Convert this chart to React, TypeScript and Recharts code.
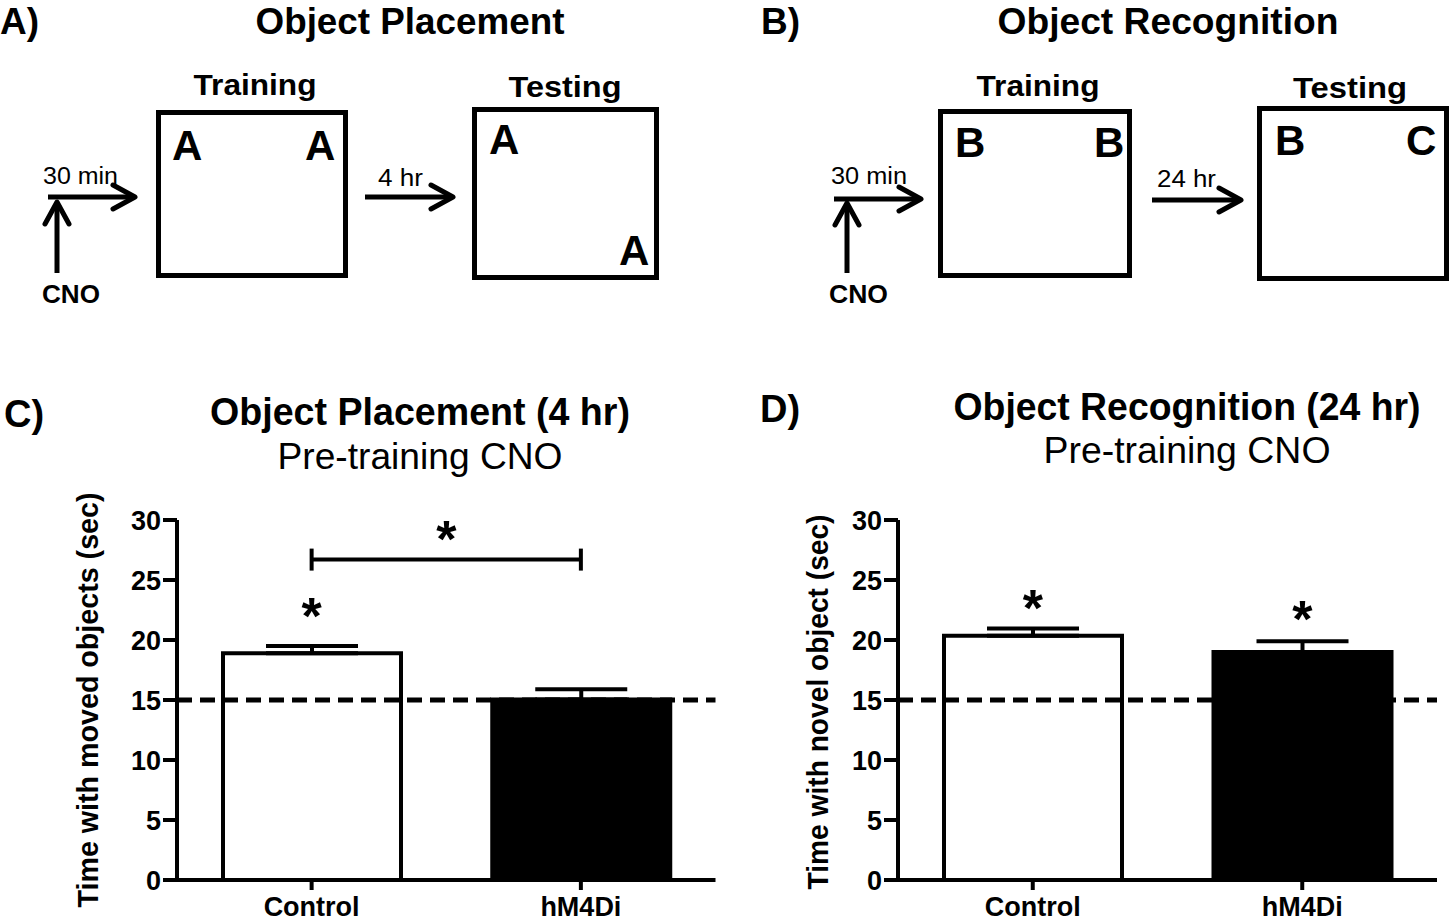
import React from 'react';
import { BarChart, Bar, XAxis, YAxis, ErrorBar, Cell, ReferenceLine, ReferenceDot } from 'recharts';

const FONT = '"Liberation Sans", Arial, Helvetica, sans-serif';

// shared
const groups = ['Control', 'hM4Di'];
const barFills = ['#ffffff', '#000000'];
const yTicks = [0, 5, 10, 15, 20, 25, 30];
const chanceLevel = 15;

// C) object placement, 4 hr
const placementMean = [18.9, 15.05];
const placementSem = [0.6, 0.85];
const placementStar: (number | null)[] = [22.9, null];
const placementBracket = 26.7;

// D) object recognition, 24 hr
const recognitionMean = [20.35, 19.0];
const recognitionSem = [0.6, 0.9];
const recognitionStar: (number | null)[] = [23.6, 22.7];

type Row = { group: string; mean: number; err: [number, number]; star: number | null };

const buildRows = (mean: number[], sem: number[], star: (number | null)[]): Row[] =>
  groups.map((g, i) => ({ group: g, mean: mean[i], err: [0, sem[i]], star: star[i] }));

const placementRows = buildRows(placementMean, placementSem, placementStar);
const recognitionRows = buildRows(recognitionMean, recognitionSem, recognitionStar);

const axisStyle = { stroke: '#000', strokeWidth: 4 };

const StarMark = (props: any) => {
  if (props.cx == null || props.cy == null) return <g />;
  return (
    <text x={props.cx} y={props.cy + 29} textAnchor="middle" fontFamily={FONT} fontWeight="bold" fontSize={52} fill="#000">
      *
    </text>
  );
};

const Bracket = (props: any) => {
  const { x1, x2, y1 } = props;
  if (x1 == null || x2 == null || y1 == null) return <g />;
  return (
    <g>
      <line x1={x1} y1={y1} x2={x2} y2={y1} stroke="#000" strokeWidth={4} />
      <line x1={x1} y1={y1 - 11} x2={x1} y2={y1 + 11} stroke="#000" strokeWidth={4} />
      <line x1={x2} y1={y1 - 11} x2={x2} y2={y1 + 11} stroke="#000" strokeWidth={4} />
      <text x={(x1 + x2) / 2} y={y1 - 3} textAnchor="middle" fontFamily={FONT} fontWeight="bold" fontSize={52} fill="#000">
        *
      </text>
    </g>
  );
};

interface PanelProps {
  rows: Row[];
  width: number;
  marginLeft: number;
  marginRight: number;
  bracket?: number;
}

const ChartPanel = ({ rows, width, marginLeft, marginRight, bracket }: PanelProps) => (
  <BarChart
    width={width}
    height={442}
    data={rows}
    margin={{ top: 40, right: marginRight, bottom: 2, left: marginLeft }}
    barSize={178}
  >
    <XAxis
      dataKey="group"
      height={40}
      interval={0}
      tickSize={10}
      tickMargin={7}
      axisLine={axisStyle}
      tickLine={axisStyle}
      tick={{ fill: '#000', fontSize: 27, fontWeight: 'bold', fontFamily: FONT }}
    />
    <YAxis
      domain={[0, 30]}
      ticks={yTicks}
      width={60}
      tickSize={14}
      tickMargin={2}
      axisLine={axisStyle}
      tickLine={axisStyle}
      tick={{ fill: '#000', fontSize: 27, fontWeight: 'bold', fontFamily: FONT }}
    />
    <Bar dataKey="mean" stroke="#000" strokeWidth={4} isAnimationActive={false}>
      {rows.map((r, i) => (
        <Cell key={r.group} fill={barFills[i]} />
      ))}
      <ErrorBar dataKey="err" direction="y" width={46} stroke="#000" strokeWidth={4} isAnimationActive={false} />
    </Bar>
    <ReferenceLine y={chanceLevel} stroke="#000" strokeWidth={5} strokeDasharray="15 8" />
    {rows.map((r) =>
      r.star != null ? <ReferenceDot key={'star-' + r.group} x={r.group} y={r.star} r={0} shape={StarMark} /> : null
    )}
    {bracket != null ? (
      <ReferenceLine
        segment={[
          { x: groups[0], y: bracket },
          { x: groups[1], y: bracket },
        ]}
        shape={Bracket}
      />
    ) : null}
  </BarChart>
);

const T = ({ x, y, size, bold, anchor = 'start', len, children }: any) => (
  <text
    x={x}
    y={y}
    fontSize={size}
    fontWeight={bold ? 'bold' : 'normal'}
    textAnchor={anchor}
    textLength={len}
    lengthAdjust="spacingAndGlyphs"
    fontFamily={FONT}
    fill="#000"
  >
    {children}
  </text>
);

const Arrow = ({ x1, y1, x2, y2 }: { x1: number; y1: number; x2: number; y2: number }) => {
  const a = Math.atan2(y2 - y1, x2 - x1);
  const bx = x2 - 22 * Math.cos(a);
  const by = y2 - 22 * Math.sin(a);
  const px = -Math.sin(a) * 12;
  const py = Math.cos(a) * 12;
  return (
    <g stroke="#000" strokeWidth={5} fill="none">
      <line x1={x1} y1={y1} x2={x2 - 3 * Math.cos(a)} y2={y2 - 3 * Math.sin(a)} />
      <polyline points={`${bx + px},${by + py} ${x2},${y2} ${bx - px},${by - py}`} strokeLinejoin="round" strokeLinecap="round" />
    </g>
  );
};

const Box = ({ x, y, w, h }: { x: number; y: number; w: number; h: number }) => (
  <rect x={x + 2.5} y={y + 2.5} width={w - 5} height={h - 5} fill="none" stroke="#000" strokeWidth={5} />
);

const Diagrams = () => (
  <svg width={1455} height={922} style={{ position: 'absolute', left: 0, top: 0 }}>
    {/* A) */}
    <T x={0} y={34} size={37} bold>A)</T>
    <T x={410} y={34} size={37} bold anchor="middle" len={309}>Object Placement</T>
    <T x={255} y={95} size={30} bold anchor="middle" len={123}>Training</T>
    <T x={565} y={97} size={30} bold anchor="middle" len={113}>Testing</T>
    <Box x={156} y={110} w={192} h={168} />
    <Box x={472} y={107} w={187} h={173} />
    <T x={172} y={160} size={42} bold>A</T>
    <T x={305} y={160} size={42} bold>A</T>
    <T x={489} y={154} size={42} bold>A</T>
    <T x={619} y={265} size={42} bold>A</T>
    <Arrow x1={48} y1={197} x2={135} y2={197} />
    <Arrow x1={57} y1={273} x2={57} y2={202} />
    <Arrow x1={365} y1={197} x2={453} y2={197} />
    <T x={43} y={184} size={23} len={75}>30 min</T>
    <T x={378} y={186} size={23} len={45}>4 hr</T>
    <T x={42} y={303} size={25} bold len={58}>CNO</T>

    {/* B) */}
    <T x={761} y={34} size={37} bold>B)</T>
    <T x={1168} y={34} size={37} bold anchor="middle" len={341}>Object Recognition</T>
    <T x={1038} y={96} size={30} bold anchor="middle" len={123}>Training</T>
    <T x={1350} y={98} size={30} bold anchor="middle" len={114}>Testing</T>
    <Box x={938} y={109} w={194} h={169} />
    <Box x={1257} y={106} w={192} h={175} />
    <T x={955} y={157} size={42} bold>B</T>
    <T x={1094} y={157} size={42} bold>B</T>
    <T x={1275} y={155} size={42} bold>B</T>
    <T x={1406} y={155} size={42} bold>C</T>
    <Arrow x1={834} y1={199} x2={921} y2={199} />
    <Arrow x1={847} y1={273} x2={847} y2={203} />
    <Arrow x1={1152} y1={200} x2={1241} y2={200} />
    <T x={831} y={184} size={23} len={76}>30 min</T>
    <T x={1157} y={187} size={23} len={59}>24 hr</T>
    <T x={829} y={303} size={25} bold len={59}>CNO</T>

    {/* C) / D) headings */}
    <T x={4} y={427} size={38} bold>C)</T>
    <T x={420} y={425} size={38} bold anchor="middle" len={420}>Object Placement (4 hr)</T>
    <T x={420} y={469} size={36} anchor="middle" len={285}>Pre-training CNO</T>
    <T x={760} y={422} size={38} bold>D)</T>
    <T x={1187} y={420} size={38} bold anchor="middle" len={467}>Object Recognition (24 hr)</T>
    <T x={1187} y={463} size={36} anchor="middle" len={287}>Pre-training CNO</T>

    {/* y-axis titles */}
    <g transform="translate(89,700) rotate(-90)">
      <T x={0} y={9} size={29} bold anchor="middle" len={415}>Time with moved objects (sec)</T>
    </g>
    <g transform="translate(819,702) rotate(-90)">
      <T x={0} y={9} size={29} bold anchor="middle" len={375}>Time with novel object (sec)</T>
    </g>
  </svg>
);

const App = () => (
  <div style={{ position: 'absolute', left: 0, top: 0, width: 1455, height: 922, background: '#fff', fontFamily: FONT }}>
    <div style={{ position: 'absolute', left: 0, top: 480 }}>
      <ChartPanel rows={placementRows} width={740} marginLeft={117} marginRight={24.5} bracket={placementBracket} />
    </div>
    <div style={{ position: 'absolute', left: 740, top: 480 }}>
      <ChartPanel rows={recognitionRows} width={715} marginLeft={98} marginRight={18} />
    </div>
    <Diagrams />
  </div>
);

export default App;
